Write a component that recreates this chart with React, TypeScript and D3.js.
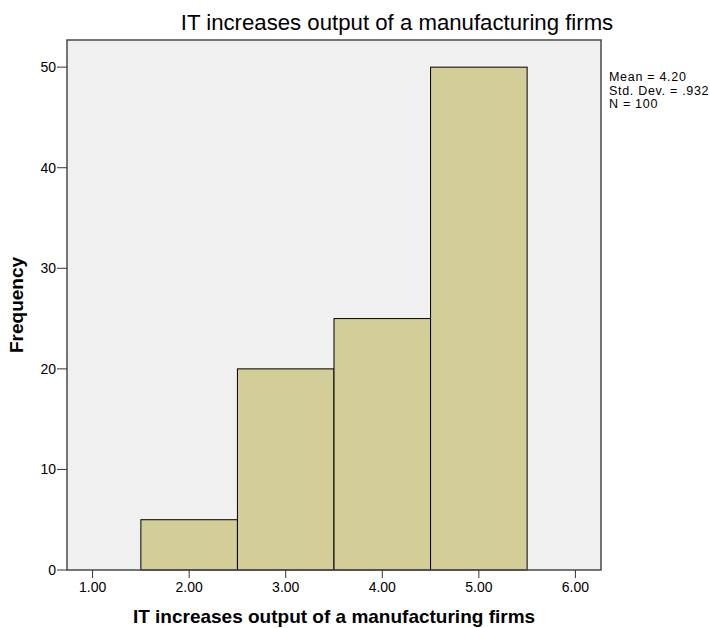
import * as d3 from 'd3';

const binStarts = [1.5, 2.5, 3.5, 4.5];
const binEnds = [2.5, 3.5, 4.5, 5.5];
const frequencies = [5, 20, 25, 50];
const xTicks = [1, 2, 3, 4, 5, 6];
const yTicks = [0, 10, 20, 30, 40, 50];
const statLines = ['Mean = 4.20', 'Std. Dev. = .932', 'N = 100'];

const title = 'IT increases output of a manufacturing firms';

export default function App() {
    const width = 710;
    const height = 628;
    const margin = { top: 40, right: 110, bottom: 58, left: 67 };
    const innerW = 601 - margin.left;
    const innerH = 570 - margin.top;

    const x = d3.scaleLinear().domain([0.735, 6.265]).range([0, innerW]);
    const y = d3.scaleLinear().domain([0, 52.7]).range([innerH, 0]);

    const font = 'Arial, "Liberation Sans", sans-serif';

    return (
        <svg width={width} height={height} style={{ position: 'absolute', left: 0, top: 0, background: '#fff' }}>
            <text x={397} y={30} textAnchor="middle" fontFamily={font} fontSize={22.2} fill="#000">{title}</text>
            <g transform={`translate(${margin.left},${margin.top})`}>
                <rect x={0} y={0} width={innerW} height={innerH} fill="#f0f0f0" />
                {frequencies.map((f, i) => (
                    <rect key={i}
                        x={x(binStarts[i])}
                        y={y(f)}
                        width={x(binEnds[i]) - x(binStarts[i])}
                        height={innerH - y(f)}
                        fill="#d3ce98" stroke="#000" strokeWidth={1} />
                ))}
                <rect x={0} y={0} width={innerW} height={innerH} fill="none" stroke="#4a4a4a" strokeWidth={1.5} />
                {yTicks.map(t => (
                    <g key={t} transform={`translate(0,${y(t)})`}>
                        <line x1={-10} x2={0} stroke="#333" />
                        <text x={-11} dy="0.36em" textAnchor="end" fontFamily={font} fontSize={14} fill="#000">{t}</text>
                    </g>
                ))}
                {xTicks.map(t => (
                    <g key={t} transform={`translate(${x(t)},${innerH})`}>
                        <line y1={0} y2={8} stroke="#333" />
                        <text y={22} textAnchor="middle" fontFamily={font} fontSize={14} fill="#000">{t.toFixed(2)}</text>
                    </g>
                ))}
                <text x={innerW / 2} y={innerH + 53} textAnchor="middle" fontFamily={font} fontSize={19} fontWeight="bold" fill="#000">{title}</text>
                <text transform={`translate(-44,${innerH / 2}) rotate(-90)`} textAnchor="middle" fontFamily={font} fontSize={19} fontWeight="bold" fill="#000">Frequency</text>
            </g>
            {statLines.map((s, i) => (
                <text key={i} x={609} y={81 + i * 13.5} fontFamily={font} fontSize={12.5} letterSpacing={0.7} fill="#000">{s}</text>
            ))}
        </svg>
    );
}
